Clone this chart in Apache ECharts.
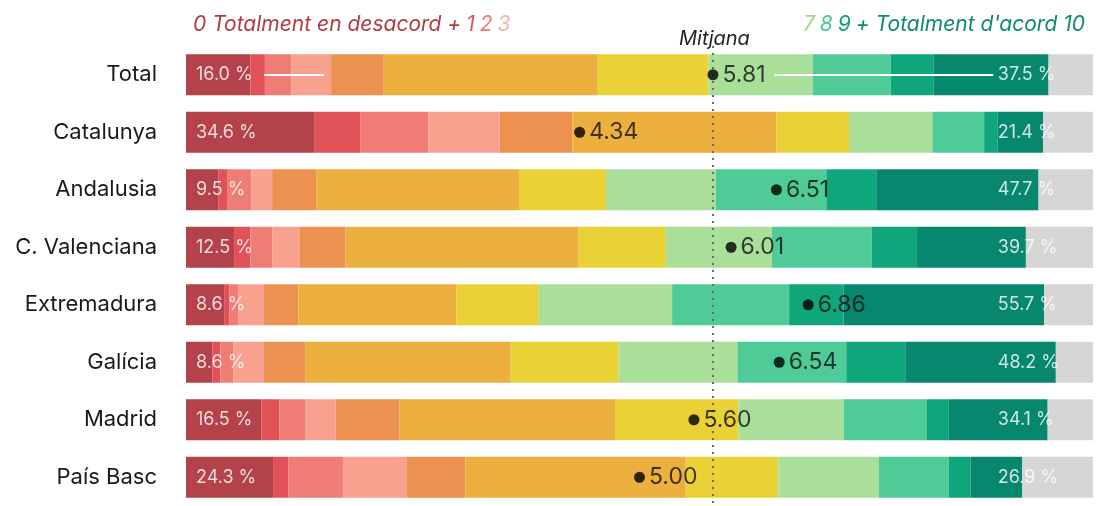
<!DOCTYPE html>
<html>
<head>
<meta charset="utf-8">
<script src="https://cdn.jsdelivr.net/npm/echarts@6/dist/echarts.min.js"></script>
<style>
  html, body { margin: 0; padding: 0; background: #fff; }
  #chart { width: 1096px; height: 506px; }
</style>
</head>
<body>
<div id="chart"></div>
<script>
// regions, top to bottom
const regions = ['Total', 'Catalunya', 'Andalusia', 'C. Valenciana', 'Extremadura', 'Galícia', 'Madrid', 'País Basc']

// % of answers for each score 0..10, then NS/NC
const score0 = [7.1, 14.2, 3.6, 5.3, 4.2, 2.9, 8.3, 9.6]
const score1 = [1.6, 5.0, 1.0, 1.8, 0.6, 0.9, 2.0, 1.7]
const score2 = [2.9, 7.5, 2.6, 2.4, 1.0, 1.4, 2.9, 6.0]
const score3 = [4.4, 7.9, 2.3, 3.0, 2.8, 3.4, 3.3, 7.0]
const score4 = [5.8, 8.0, 4.9, 5.1, 3.8, 4.6, 7.0, 6.5]
const score5 = [23.6, 22.5, 22.4, 25.7, 17.4, 22.6, 23.8, 24.3]
const score6 = [12.2, 8.0, 9.5, 9.6, 9.1, 11.9, 13.6, 10.2]
const score7 = [11.5, 9.2, 12.1, 11.7, 14.7, 13.1, 11.6, 11.1]
const score8 = [8.6, 5.7, 12.2, 11.0, 12.9, 12.0, 9.2, 7.7]
const score9 = [4.7, 1.5, 5.5, 5.0, 6.0, 6.5, 2.4, 2.4]
const score10 = [12.7, 5.0, 17.9, 12.0, 22.1, 16.6, 10.9, 5.7]
const nsnc = [4.9, 5.5, 6.0, 7.4, 5.4, 4.1, 5.0, 7.8]

// summary labels
const disagreeLabels = ['16.0', '34.6', '9.5', '12.5', '8.6', '8.6', '16.5', '24.3']
const agreeLabels = ['37.5', '21.4', '47.7', '39.7', '55.7', '48.2', '34.1', '26.9']
const means = [5.81, 4.34, 6.51, 6.01, 6.86, 6.54, 5.60, 5.00]

const scoreData = [score0, score1, score2, score3, score4, score5, score6, score7, score8, score9, score10, nsnc]
const scoreNames = ['0', '1', '2', '3', '4', '5', '6', '7', '8', '9', '10', 'NS/NC']
const scoreColors = ['#b3424a', '#e05257', '#ef7c75', '#f8a18f', '#ec9150', '#ebb03e', '#ead236',
  '#a9df99', '#4ecb97', '#10a67b', '#08876f', '#d6d6d6']

const FONT = 'Inter, "Noto Sans", sans-serif'

const chart = echarts.init(document.getElementById('chart'), null, { renderer: 'canvas' })

const barSeries = scoreData.map((arr, i) => ({
  name: scoreNames[i],
  type: 'bar',
  stack: 'total',
  data: arr,
  barWidth: 41,
  itemStyle: { color: scoreColors[i] },
  silent: true
}))

// header text piece
const hd = (color) => ({ color, fontSize: 21, fontStyle: 'italic', fontWeight: 'normal', fontFamily: FONT })

const option = {
  backgroundColor: '#fff',
  animation: false,
  title: [
    {
      left: 188,
      top: 9,
      text: '{a|0 Totalment en desacord +} {b|1} {c|2} {d|3}',
      textStyle: {
        fontWeight: 'normal',
        rich: { a: hd('#b23b40'), b: hd('#e05257'), c: hd('#ef7c75'), d: hd('#f8b3ad') }
      }
    },
    {
      right: 6,
      top: 9,
      text: '{a|7} {b|8} {c|9} {d|+ Totalment d\'acord 10}',
      textStyle: {
        fontWeight: 'normal',
        rich: { a: hd('#9fd98d'), b: hd('#4ec896'), c: hd('#12a07a'), d: hd('#0e8a6f') }
      }
    },
    {
      left: 674,
      top: 24,
      text: 'Mitjana',
      textStyle: { color: '#222', fontSize: 20, fontStyle: 'italic', fontWeight: 'normal', fontFamily: FONT }
    }
  ],
  grid: { left: 186, right: 3, top: 46, height: 461, containLabel: false },
  xAxis: {
    type: 'value',
    min: 0,
    max: 100,
    show: false
  },
  yAxis: {
    type: 'category',
    data: regions,
    inverse: true,
    axisLine: { show: false },
    axisTick: { show: false },
    splitLine: { show: false },
    axisLabel: { color: '#1a1a1a', fontSize: 22, fontFamily: FONT, margin: 29 }
  },
  series: [
    ...barSeries,
    {
      // disagreement share, left side
      name: 'desacord',
      type: 'scatter',
      symbolSize: 0,
      silent: true,
      z: 5,
      data: disagreeLabels.map((v, i) => [0, regions[i]]),
      label: {
        show: true,
        position: 'right',
        distance: 10,
        color: '#fff',
        fontSize: 18,
        fontFamily: FONT,
        formatter: (p) => disagreeLabels[p.dataIndex] + ' %'
      },
      markLine: {
        silent: true,
        symbol: ['none', 'none'],
        label: { show: false },
        lineStyle: { color: '#fff', width: 2, type: 'solid' },
        data: [
          [{ coord: [8.6, 0] }, { coord: [15.2, 0] }],
          [{ coord: [64.9, 0] }, { coord: [89.0, 0] }]
        ]
      }
    },
    {
      // agreement share, right side
      name: 'acord',
      type: 'scatter',
      symbolSize: 0,
      silent: true,
      z: 5,
      data: agreeLabels.map((v, i) => [89.5, regions[i]]),
      label: {
        show: true,
        position: 'right',
        distance: 0,
        color: '#fff',
        fontSize: 18,
        fontFamily: FONT,
        formatter: (p) => agreeLabels[p.dataIndex] + ' %'
      }
    },
    {
      name: 'Mitjana',
      type: 'scatter',
      symbol: 'circle',
      symbolSize: 11,
      silent: true,
      z: 6,
      itemStyle: { color: '#000' },
      data: means.map((m, i) => [m * 10, regions[i]]),
      label: {
        show: true,
        position: 'right',
        distance: 4,
        color: '#111',
        fontSize: 23,
        fontFamily: FONT,
        formatter: (p) => means[p.dataIndex].toFixed(2)
      },
      markLine: {
        silent: true,
        symbol: ['none', 'none'],
        label: { show: false },
        lineStyle: { color: '#6b6b6b', width: 2, type: [2, 5] },
        data: [{ xAxis: means[0] * 10 }]
      }
    }
  ]
}

chart.setOption(option)
window.addEventListener('resize', () => chart.resize())
</script>
</body>
</html>
